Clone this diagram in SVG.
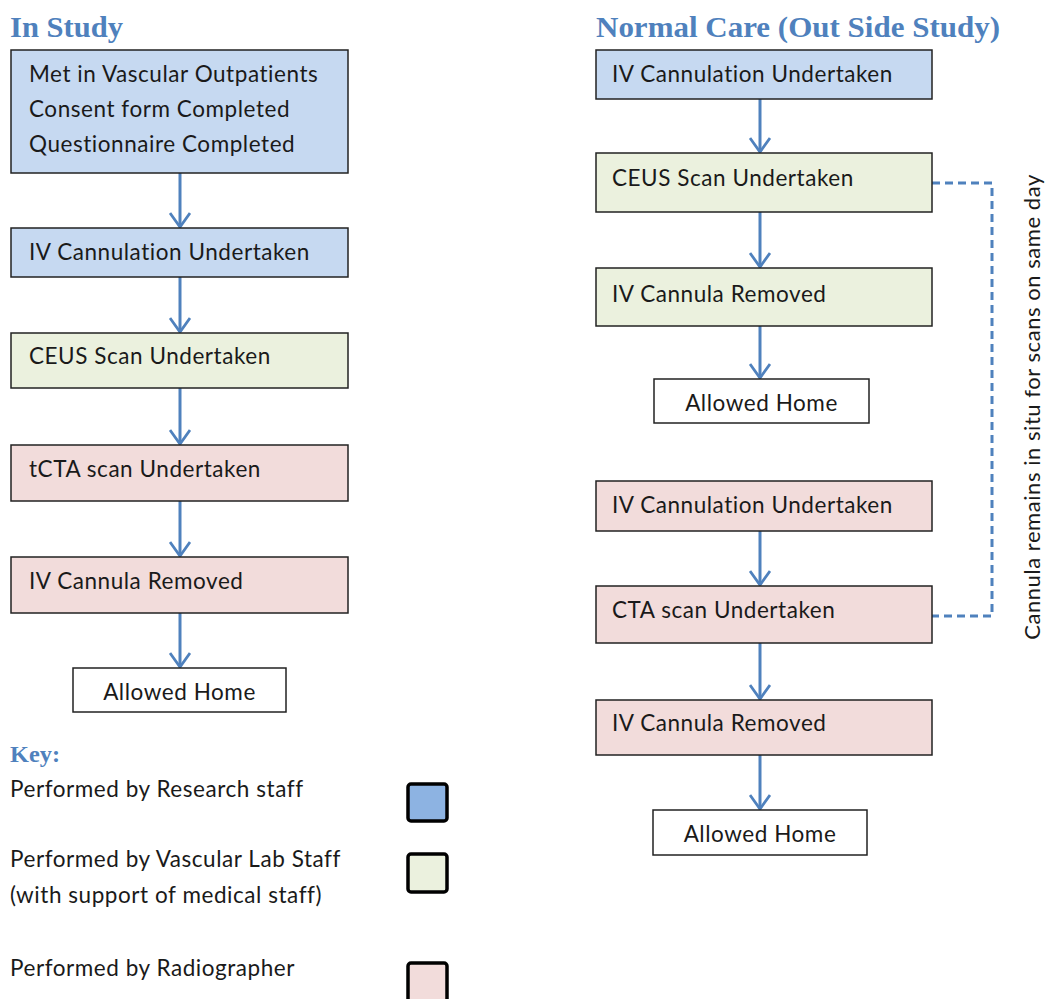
<svg xmlns="http://www.w3.org/2000/svg" width="1048" height="999" viewBox="0 0 1048 999">
<defs>
<style>
.t{font-family:Lato,"Open Sans","Liberation Sans",sans-serif;font-size:22.5px;letter-spacing:0.55px;fill:#1a1a1a}
.h{font-family:"Liberation Serif","DejaVu Serif",serif;font-weight:bold;fill:#4F81BD}
.b{stroke:#222;stroke-width:1.5}
.blue{fill:#C6D9F1}.green{fill:#EBF1DE}.pink{fill:#F2DCDB}.white{fill:#fff}
.c{stroke:#4F81BD;stroke-width:3;fill:none}
.k{stroke:#000;stroke-width:3.5}
</style>
<marker id="ah" viewBox="0 0 16 22" refX="15" refY="11" markerWidth="16" markerHeight="22" markerUnits="userSpaceOnUse" orient="auto">
<path d="M1,1 L15,11 L1,21" fill="none" stroke="#4F81BD" stroke-width="2.8"/>
</marker>
</defs>
<rect width="1048" height="999" fill="#fff"/>
<text class="h" x="10" y="37" font-size="29" textLength="113" lengthAdjust="spacingAndGlyphs">In Study</text>
<text class="h" x="596" y="37" font-size="29" textLength="404" lengthAdjust="spacingAndGlyphs">Normal Care (Out Side Study)</text>

<g id="connectors">
<line class="c" x1="180" y1="173" x2="180" y2="227" marker-end="url(#ah)"/>
<line class="c" x1="180" y1="277" x2="180" y2="332" marker-end="url(#ah)"/>
<line class="c" x1="180" y1="388" x2="180" y2="444" marker-end="url(#ah)"/>
<line class="c" x1="180" y1="501" x2="180" y2="556" marker-end="url(#ah)"/>
<line class="c" x1="180" y1="613" x2="180" y2="667" marker-end="url(#ah)"/>
<line class="c" x1="760" y1="99" x2="760" y2="152" marker-end="url(#ah)"/>
<line class="c" x1="760" y1="212" x2="760" y2="267" marker-end="url(#ah)"/>
<line class="c" x1="760" y1="326" x2="760" y2="378" marker-end="url(#ah)"/>
<line class="c" x1="760" y1="531" x2="760" y2="585" marker-end="url(#ah)"/>
<line class="c" x1="760" y1="643" x2="760" y2="699" marker-end="url(#ah)"/>
<line class="c" x1="760" y1="755" x2="760" y2="809" marker-end="url(#ah)"/>
<path class="c" d="M932,183 H992 V616 H932" stroke-dasharray="8,5"/>
</g>
<text class="t" transform="translate(1040,407) rotate(-90)" text-anchor="middle" style="font-size:22px;letter-spacing:0.55px">Cannula remains in situ for scans on same day</text>

<g id="l1"><rect class="b blue" x="11" y="50" width="337" height="123"/>
<text class="t" x="29" y="82">Met in Vascular Outpatients</text>
<text class="t" x="29" y="117">Consent form Completed</text>
<text class="t" x="29" y="152">Questionnaire Completed</text></g>
<g id="l2"><rect class="b blue" x="11" y="228" width="337" height="49"/><text class="t" x="29" y="260">IV Cannulation Undertaken</text></g>
<g id="l3"><rect class="b green" x="11" y="333" width="337" height="55"/><text class="t" x="29" y="364">CEUS Scan Undertaken</text></g>
<g id="l4"><rect class="b pink" x="11" y="445" width="337" height="56"/><text class="t" x="29" y="477">tCTA scan Undertaken</text></g>
<g id="l5"><rect class="b pink" x="11" y="557" width="337" height="56"/><text class="t" x="29" y="589">IV Cannula Removed</text></g>
<g id="l6"><rect class="b white" x="73" y="668" width="213" height="44"/><text class="t" x="179.5" y="700" text-anchor="middle">Allowed Home</text></g>

<g id="r1"><rect class="b blue" x="596" y="50" width="336" height="49"/><text class="t" x="612" y="82">IV Cannulation Undertaken</text></g>
<g id="r2"><rect class="b green" x="596" y="153" width="336" height="59"/><text class="t" x="612" y="186">CEUS Scan Undertaken</text></g>
<g id="r3"><rect class="b green" x="596" y="268" width="336" height="58"/><text class="t" x="612" y="302">IV Cannula Removed</text></g>
<g id="r4"><rect class="b white" x="654" y="379" width="215" height="44"/><text class="t" x="761.5" y="411" text-anchor="middle">Allowed Home</text></g>
<g id="r5"><rect class="b pink" x="596" y="481" width="336" height="50"/><text class="t" x="612" y="513">IV Cannulation Undertaken</text></g>
<g id="r6"><rect class="b pink" x="596" y="586" width="336" height="57"/><text class="t" x="612" y="618">CTA scan Undertaken</text></g>
<g id="r7"><rect class="b pink" x="596" y="700" width="336" height="55"/><text class="t" x="612" y="731">IV Cannula Removed</text></g>
<g id="r8"><rect class="b white" x="653" y="810" width="214" height="45"/><text class="t" x="760" y="842" text-anchor="middle">Allowed Home</text></g>

<g id="key">
<text class="h" x="10" y="762" font-size="23" textLength="50" lengthAdjust="spacingAndGlyphs">Key:</text>
<text class="t" x="10" y="797">Performed by Research staff</text>
<text class="t" x="10" y="867">Performed by Vascular Lab Staff</text>
<text class="t" x="10" y="903">(with support of medical staff)</text>
<text class="t" x="10" y="976">Performed by Radiographer</text>
<rect class="k" x="408" y="784" width="39" height="37" rx="3" fill="#8DB3E2"/>
<rect class="k" x="408" y="854" width="39" height="38" rx="3" fill="#EBF1DE"/>
<rect class="k" x="408" y="963" width="39" height="40" rx="3" fill="#F2DCDB"/>
</g>
</svg>
